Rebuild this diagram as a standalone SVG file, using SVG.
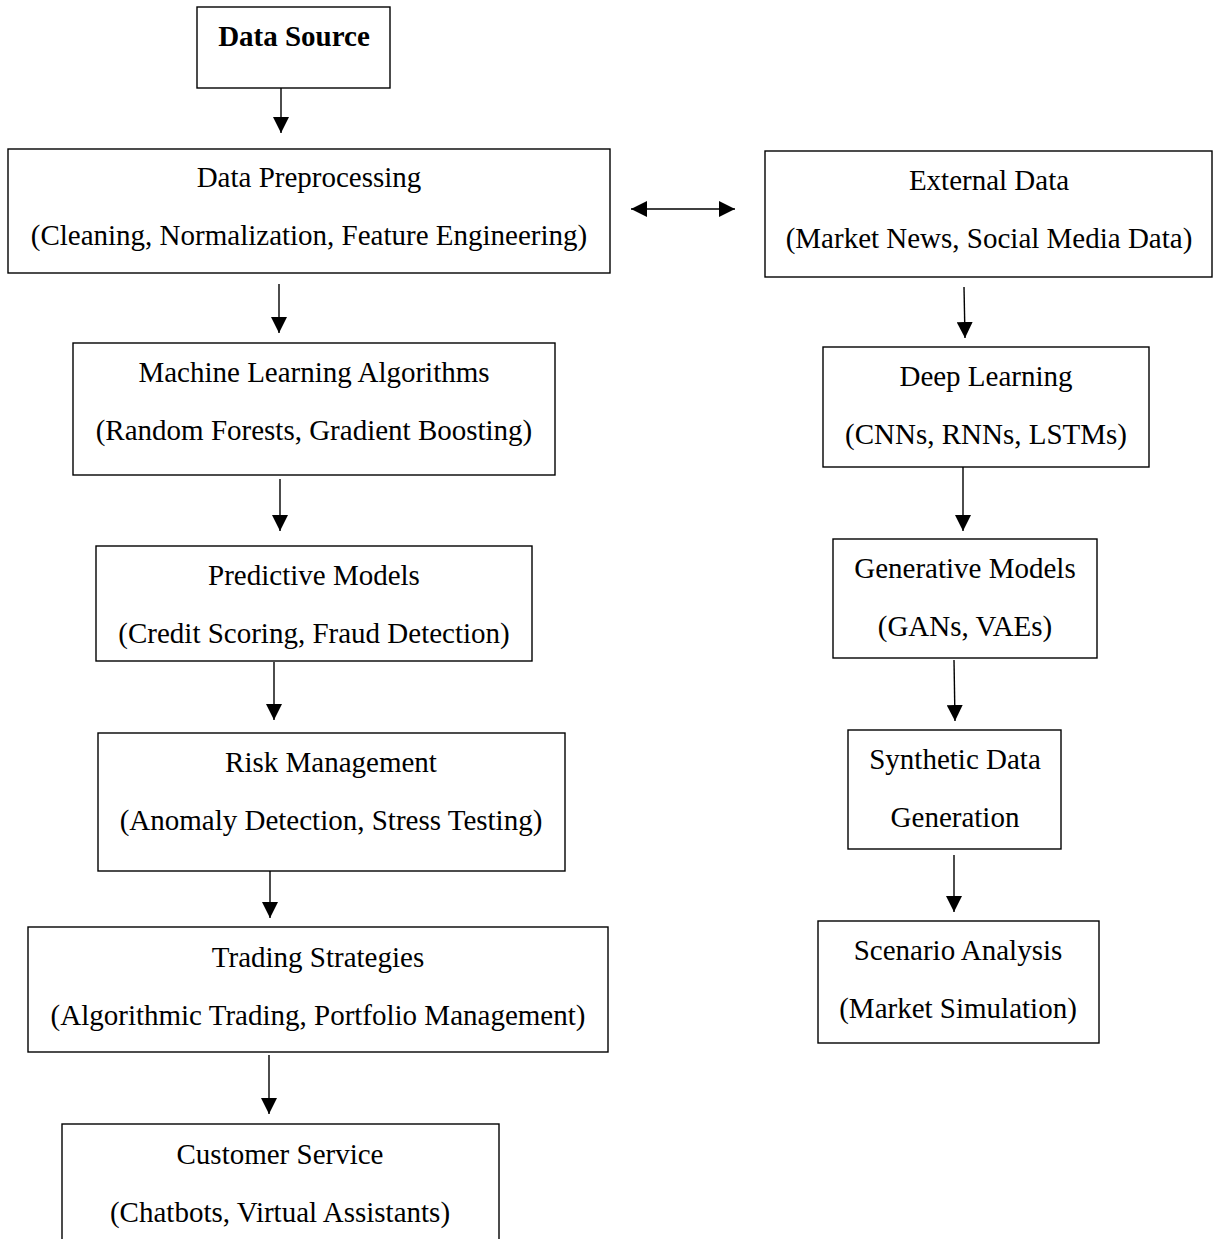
<svg xmlns="http://www.w3.org/2000/svg" width="1213" height="1239" viewBox="0 0 1213 1239">
<style>
.box{fill:#fff;stroke:#000;stroke-width:1.4}
.t{font-family:"Liberation Serif","Times New Roman",serif;font-size:29px;fill:#000;text-anchor:middle}
.b{font-weight:bold}
.c{stroke:#000;stroke-width:1.4;fill:none}
</style>
<defs>
<marker id="ah" markerUnits="userSpaceOnUse" markerWidth="16" markerHeight="16" refX="16" refY="8" orient="auto-start-reverse" viewBox="0 0 16 16">
<path d="M0,0 L16,8 L0,16 Z" fill="#000"/>
</marker>
</defs>
<rect width="1213" height="1239" fill="#fff"/>
<g id="connectors">
<line class="c" x1="281" y1="88" x2="281" y2="133" marker-end="url(#ah)"/>
<line class="c" x1="631" y1="209" x2="735" y2="209" marker-start="url(#ah)" marker-end="url(#ah)"/>
<line class="c" x1="279" y1="284" x2="279" y2="333" marker-end="url(#ah)"/>
<line class="c" x1="964" y1="287" x2="965" y2="338" marker-end="url(#ah)"/>
<line class="c" x1="280" y1="479" x2="280" y2="531" marker-end="url(#ah)"/>
<line class="c" x1="963" y1="467" x2="963" y2="531" marker-end="url(#ah)"/>
<line class="c" x1="274" y1="662" x2="274" y2="720" marker-end="url(#ah)"/>
<line class="c" x1="954" y1="660" x2="955" y2="721" marker-end="url(#ah)"/>
<line class="c" x1="270" y1="871" x2="270" y2="918" marker-end="url(#ah)"/>
<line class="c" x1="954" y1="855" x2="954" y2="912" marker-end="url(#ah)"/>
<line class="c" x1="269" y1="1055" x2="269" y2="1114" marker-end="url(#ah)"/>
</g>
<g id="data-source">
<rect class="box" x="197" y="7" width="193" height="81"/>
<text class="t b" x="294" y="46">Data Source</text>
</g>
<g id="data-preprocessing">
<rect class="box" x="8" y="149" width="602" height="124"/>
<text class="t" x="309" y="187">Data Preprocessing</text>
<text class="t" x="309" y="245">(Cleaning, Normalization, Feature Engineering)</text>
</g>
<g id="external-data">
<rect class="box" x="765" y="151" width="447" height="126"/>
<text class="t" x="989" y="190">External Data</text>
<text class="t" x="989" y="248">(Market News, Social Media Data)</text>
</g>
<g id="ml-algorithms">
<rect class="box" x="73" y="343" width="482" height="132"/>
<text class="t" x="314" y="382">Machine Learning Algorithms</text>
<text class="t" x="314" y="440">(Random Forests, Gradient Boosting)</text>
</g>
<g id="deep-learning">
<rect class="box" x="823" y="347" width="326" height="120"/>
<text class="t" x="986" y="386">Deep Learning</text>
<text class="t" x="986" y="444">(CNNs, RNNs, LSTMs)</text>
</g>
<g id="predictive-models">
<rect class="box" x="96" y="546" width="436" height="115"/>
<text class="t" x="314" y="585">Predictive Models</text>
<text class="t" x="314" y="643">(Credit Scoring, Fraud Detection)</text>
</g>
<g id="generative-models">
<rect class="box" x="833" y="539" width="264" height="119"/>
<text class="t" x="965" y="578">Generative Models</text>
<text class="t" x="965" y="636">(GANs, VAEs)</text>
</g>
<g id="risk-management">
<rect class="box" x="98" y="733" width="467" height="138"/>
<text class="t" x="331" y="772">Risk Management</text>
<text class="t" x="331" y="830">(Anomaly Detection, Stress Testing)</text>
</g>
<g id="synthetic-data">
<rect class="box" x="848" y="730" width="213" height="119"/>
<text class="t" x="955" y="769">Synthetic Data</text>
<text class="t" x="955" y="827">Generation</text>
</g>
<g id="trading-strategies">
<rect class="box" x="28" y="927" width="580" height="125"/>
<text class="t" x="318" y="967">Trading Strategies</text>
<text class="t" x="318" y="1025">(Algorithmic Trading, Portfolio Management)</text>
</g>
<g id="scenario-analysis">
<rect class="box" x="818" y="921" width="281" height="122"/>
<text class="t" x="958" y="960">Scenario Analysis</text>
<text class="t" x="958" y="1018">(Market Simulation)</text>
</g>
<g id="customer-service">
<rect class="box" x="62" y="1124" width="437" height="140"/>
<text class="t" x="280" y="1164">Customer Service</text>
<text class="t" x="280" y="1222">(Chatbots, Virtual Assistants)</text>
</g>
</svg>
